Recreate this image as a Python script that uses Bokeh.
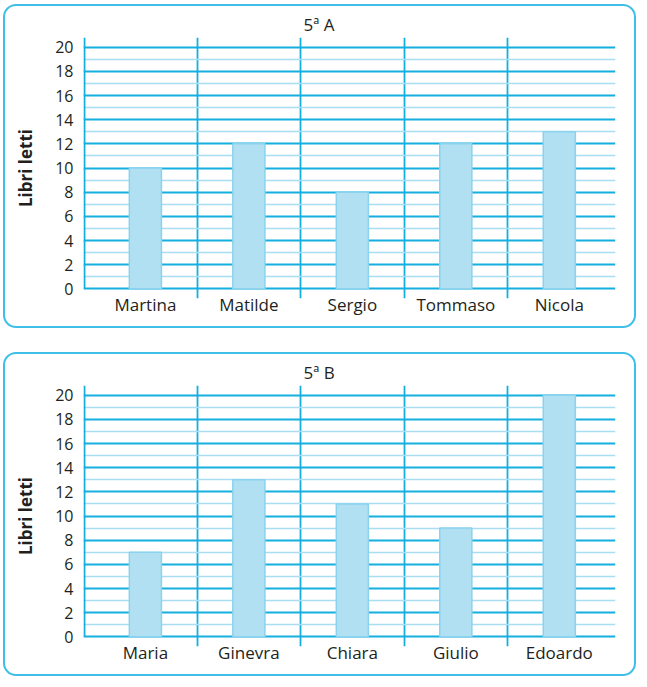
from bokeh.plotting import figure
from bokeh.layouts import column
from bokeh.models import FixedTicker, Range1d
from bokeh.embed import file_html
from bokeh.resources import INLINE

# ---- data ----
title_a = "5ª A"
names_a = ["Martina", "Matilde", "Sergio", "Tommaso", "Nicola"]
values_a = [10, 12, 8, 12, 13]

title_b = "5ª B"
names_b = ["Maria", "Ginevra", "Chiara", "Giulio", "Edoardo"]
values_b = [7, 13, 11, 9, 20]

y_ticks = [0, 2, 4, 6, 8, 10, 12, 14, 16, 18, 20]
y_minor_ticks = [1, 3, 5, 7, 9, 11, 13, 15, 17, 19]
y_label = "Libri letti"

# ---- style ----
FONT = "Open Sans"
TXT = "#231f20"
MAJOR = "#14aedf"
MINOR = "#a8def3"
BAR_FILL = "#b1e0f2"
BAR_LINE = "#8ad2ee"
BOX = "#3fbfe8"


def make(title, names, values, top_margin):
    n = len(names)
    centers = [i + 0.5 for i in range(n)]
    p = figure(width=633, height=324,
               x_range=Range1d(-0.098, n + 0.043),
               y_range=Range1d(-0.8, 20.8),
               output_backend="svg", toolbar_location=None,
               min_border_left=78, min_border_right=23,
               min_border_top=31, min_border_bottom=32,
               title=title)
    p.margin = (top_margin, 0, 0, 3)
    p.styles = {"border": f"2px solid {BOX}", "border-radius": "13px",
                "background": "white"}
    p.outline_line_color = None
    p.background_fill_color = "white"
    p.border_fill_color = None

    p.title.align = "left"
    p.title.offset = 220
    p.title.standoff = 4
    p.title.text_font = FONT
    p.title.text_font_size = "17px"
    p.title.text_font_style = "normal"
    p.title.text_color = TXT

    # horizontal grid
    p.ygrid.ticker = FixedTicker(ticks=y_ticks, minor_ticks=y_minor_ticks)
    p.ygrid.grid_line_color = MAJOR
    p.ygrid.grid_line_width = 1.8
    p.ygrid.minor_grid_line_color = MINOR
    p.ygrid.minor_grid_line_width = 1.6
    # vertical separators
    p.xgrid.ticker = FixedTicker(ticks=list(range(1, n)))
    p.xgrid.grid_line_color = MAJOR
    p.xgrid.grid_line_width = 1.8

    # y axis line (from 0 up)
    p.segment(x0=[-0.089], y0=[0], x1=[-0.089], y1=[20.8],
              line_color=MAJOR, line_width=2)

    p.vbar(x=centers, top=values, bottom=0, width=0.31,
           fill_color=BAR_FILL, line_color=BAR_LINE, line_width=1.5)

    # axes
    p.yaxis.ticker = FixedTicker(ticks=y_ticks)
    p.yaxis.axis_line_color = None
    p.yaxis.major_tick_line_color = None
    p.yaxis.minor_tick_line_color = None
    p.yaxis.major_tick_out = 0
    p.yaxis.major_tick_in = 0
    p.yaxis.minor_tick_out = 0
    p.yaxis.minor_tick_in = 0
    p.yaxis.major_label_standoff = 10
    p.yaxis.major_label_text_font = FONT
    p.yaxis.major_label_text_font_size = "16px"
    p.yaxis.major_label_text_color = TXT
    p.yaxis.axis_label = y_label
    p.yaxis.axis_label_text_font = FONT
    p.yaxis.axis_label_text_font_size = "17px"
    p.yaxis.axis_label_text_font_style = "bold"
    p.yaxis.axis_label_text_color = TXT
    p.yaxis.axis_label_standoff = 15

    p.xaxis.ticker = FixedTicker(ticks=centers)
    p.xaxis.major_label_overrides = {c: nm for c, nm in zip(centers, names)}
    p.xaxis.axis_line_color = None
    p.xaxis.major_tick_line_color = None
    p.xaxis.minor_tick_line_color = None
    p.xaxis.major_tick_out = 0
    p.xaxis.major_tick_in = 0
    p.xaxis.minor_tick_out = 0
    p.xaxis.minor_tick_in = 0
    p.xaxis.major_label_standoff = -6
    p.xaxis.major_label_text_font = FONT
    p.xaxis.major_label_text_font_size = "17px"
    p.xaxis.major_label_text_color = TXT
    return p


p1 = make(title_a, names_a, values_a, 4)
p2 = make(title_b, names_b, values_b, 0)
layout = column(p1, p2, spacing=24)

open("out.html", "w").write(file_html(layout, INLINE))
